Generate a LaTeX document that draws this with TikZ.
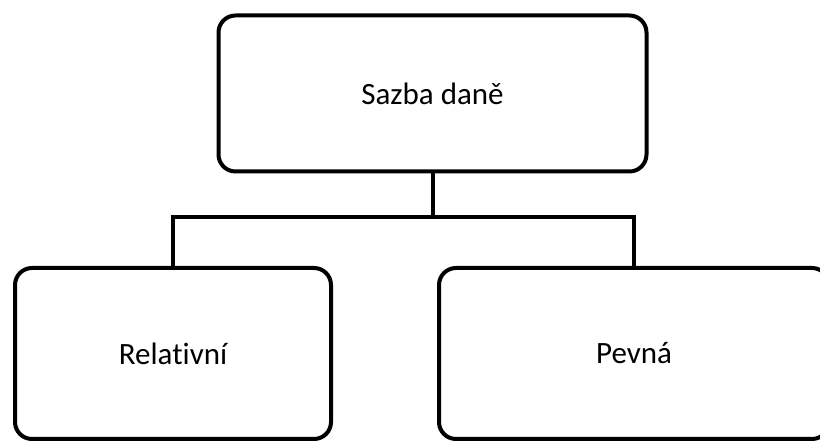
\documentclass[tikz,border=0pt]{standalone}
\usepackage{fontspec}
\setmainfont{Carlito}[Ligatures=NoCommon]
\begin{document}
\begin{tikzpicture}[x=1pt,y=1pt,
  box/.style={draw=black, line width=4pt, rounded corners=17pt, fill=white,
    inner sep=0pt, outer sep=0pt, align=center,
    font=\fontsize{31}{37}\selectfont},
  link/.style={draw=black, line width=4pt}]
  \useasboundingbox (0,0) rectangle (820,443);
  \clip (0,0) rectangle (820,443);
  \fill[white] (0,0) rectangle (820,443);
  % boxes of the tree (kern keeps "t" and "i" as separate glyphs)
  \node[box, minimum width=428pt, minimum height=156pt] (root) at (432.5,349.5) {Sazba daně};
  \node[box, minimum width=316pt, minimum height=171pt] (rel) at (173,89.5) {Relat\kern0pt ivní};
  \node[box, minimum width=390pt, minimum height=171pt] (pev) at (634,89.5) {Pevná};
  % elbow connectors
  \coordinate (split) at (432.5,226);
  \draw[link] (root.south) -- (split);
  \draw[link] (rel.north) |- (split) -| (pev.north);
\end{tikzpicture}
\end{document}
